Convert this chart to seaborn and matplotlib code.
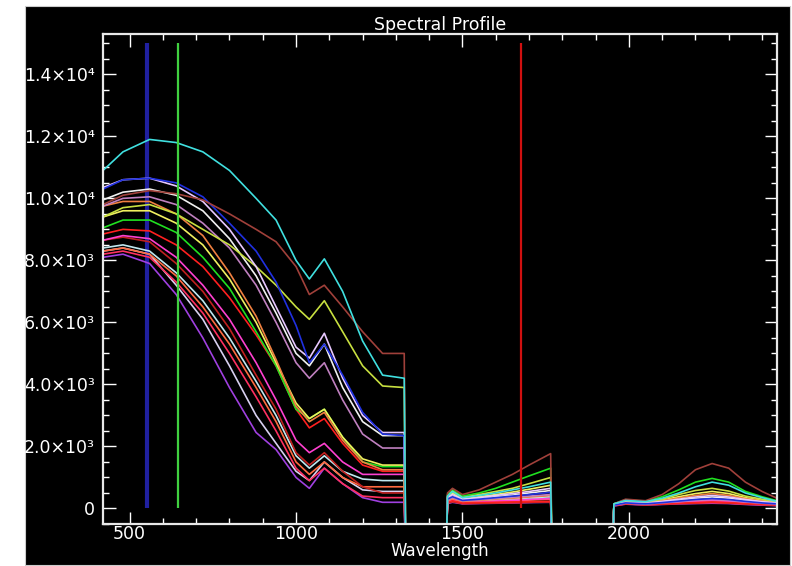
import numpy as np
import pandas as pd
import matplotlib
matplotlib.use('Agg')
import matplotlib.pyplot as plt
from matplotlib.patches import Rectangle
from matplotlib.ticker import MultipleLocator, FixedLocator
import seaborn as sns

# wavelength grids for the three good-band segments
wl_seg1 = [420, 480, 560, 640, 720, 800, 880, 940, 1000, 1040, 1085, 1140, 1200, 1260, 1325]
wl_seg2 = [1455, 1470, 1500, 1550, 1600, 1650, 1700, 1765]
wl_seg3 = [1955, 1990, 2050, 2100, 2150, 2200, 2250, 2300, 2350, 2400, 2445]
# bad bands (water absorption) are filled with a value below the plot
wl_gap1 = [1330, 1450]
wl_gap2 = [1770, 1950]
bad_value = -2000

# spectra values per segment
cyan_s1 = [10900, 11500, 11900, 11800, 11500, 10900, 10000, 9300, 8000, 7400, 8050, 7000, 5400, 4300, 4200]
cyan_s2 = [400, 550, 350, 420, 500, 600, 700, 850]
cyan_s3 = [150, 260, 220, 330, 500, 700, 850, 750, 500, 350, 230]

brown_s1 = [9800, 10100, 10250, 10150, 9950, 9500, 9000, 8600, 7800, 6900, 7200, 6500, 5700, 5000, 5000]
brown_s2 = [500, 650, 450, 600, 850, 1100, 1400, 1770]
brown_s3 = [150, 300, 250, 450, 800, 1250, 1450, 1300, 850, 550, 330]

blue_s1 = [10300, 10600, 10650, 10500, 10050, 9200, 8300, 7300, 5900, 4700, 5300, 4300, 3100, 2400, 2350]
blue_s2 = [300, 380, 260, 300, 350, 400, 450, 520]
blue_s3 = [110, 180, 150, 190, 240, 290, 320, 290, 230, 180, 150]

lavender_s1 = [10350, 10600, 10650, 10400, 9900, 9000, 7800, 6500, 5200, 4850, 5650, 4200, 3000, 2450, 2450]
lavender_s2 = [350, 450, 300, 350, 420, 480, 550, 650]
lavender_s3 = [120, 200, 170, 230, 300, 370, 420, 370, 290, 220, 180]

ygreen_s1 = [9400, 9700, 9800, 9500, 9000, 8500, 7800, 7200, 6500, 6100, 6700, 5700, 4600, 3950, 3900]
ygreen_s2 = [400, 550, 350, 450, 550, 650, 800, 1000]
ygreen_s3 = [150, 250, 200, 300, 450, 580, 650, 560, 400, 300, 220]

white_s1 = [9950, 10200, 10300, 10100, 9600, 8700, 7500, 6300, 5000, 4600, 5300, 3900, 2800, 2350, 2350]
white_s2 = [300, 400, 280, 320, 380, 430, 500, 580]
white_s3 = [120, 200, 160, 210, 270, 330, 370, 330, 260, 200, 170]

mauve_s1 = [9750, 10000, 10050, 9800, 9200, 8400, 7200, 6000, 4700, 4200, 4700, 3500, 2400, 1950, 1950]
mauve_s2 = [280, 350, 250, 280, 320, 360, 400, 450]
mauve_s3 = [110, 170, 140, 180, 220, 260, 290, 260, 210, 170, 140]

orange_s1 = [9750, 9900, 9900, 9500, 8800, 7600, 6200, 4800, 3300, 2800, 3100, 2200, 1500, 1250, 1250]
orange_s2 = [250, 320, 230, 260, 300, 330, 370, 420]
orange_s3 = [130, 220, 180, 250, 340, 420, 480, 420, 320, 240, 190]

yellow_s1 = [9400, 9600, 9600, 9200, 8500, 7400, 6000, 4700, 3400, 2900, 3200, 2300, 1600, 1400, 1400]
yellow_s2 = [350, 500, 300, 380, 450, 530, 620, 750]
yellow_s3 = [130, 230, 190, 270, 380, 480, 550, 480, 350, 260, 200]

green_s1 = [9050, 9300, 9300, 8900, 8100, 7100, 5700, 4600, 3200, 2900, 3200, 2300, 1500, 1350, 1350]
green_s2 = [450, 600, 400, 500, 650, 850, 1050, 1300]
green_s3 = [150, 280, 230, 380, 600, 850, 970, 850, 550, 380, 250]

red_s1 = [8850, 9000, 8950, 8500, 7800, 6800, 5600, 4600, 3200, 2600, 2900, 2100, 1400, 1200, 1200]
red_s2 = [200, 250, 180, 190, 200, 210, 220, 230]
red_s3 = [100, 160, 130, 150, 170, 190, 210, 190, 160, 140, 120]

pink_s1 = [8650, 8800, 8700, 8100, 7200, 6100, 4700, 3500, 2200, 1800, 2100, 1500, 1100, 1100, 1100]
pink_s2 = [220, 280, 200, 220, 240, 260, 290, 320]
pink_s3 = [110, 170, 140, 170, 200, 230, 260, 230, 190, 150, 130]

darkred_s1 = [8650, 8750, 8600, 7900, 7000, 5800, 4300, 3200, 1800, 1400, 1800, 1200, 700, 500, 500]
darkred_s2 = [180, 220, 160, 170, 180, 190, 200, 210]
darkred_s3 = [100, 150, 120, 140, 160, 180, 200, 180, 150, 130, 110]

ltcyan_s1 = [8400, 8500, 8300, 7600, 6700, 5500, 4100, 3000, 1700, 1300, 1700, 1200, 950, 900, 900]
ltcyan_s2 = [240, 300, 220, 250, 280, 310, 340, 380]
ltcyan_s3 = [120, 180, 150, 180, 220, 260, 300, 260, 210, 170, 140]

orred_s1 = [8300, 8400, 8200, 7500, 6500, 5300, 3900, 2800, 1500, 1100, 1500, 1000, 700, 700, 700]
orred_s2 = [200, 260, 190, 210, 230, 250, 270, 300]
orred_s3 = [100, 160, 130, 160, 190, 220, 250, 220, 180, 150, 120]

pinkred_s1 = [8200, 8300, 8100, 7300, 6300, 5000, 3600, 2500, 1300, 900, 1300, 800, 400, 350, 350]
pinkred_s2 = [170, 220, 160, 170, 180, 190, 200, 220]
pinkred_s3 = [90, 150, 120, 140, 160, 170, 190, 170, 140, 120, 100]

paleviolet_s1 = [8300, 8400, 8200, 7200, 6100, 4600, 3000, 2100, 1200, 900, 1500, 1000, 600, 550, 550]
paleviolet_s2 = [210, 270, 200, 220, 250, 270, 300, 330]
paleviolet_s3 = [100, 170, 140, 170, 200, 230, 260, 230, 190, 150, 130]

purple_s1 = [8100, 8200, 7900, 6900, 5500, 3900, 2450, 1900, 1000, 650, 1300, 800, 350, 200, 200]
purple_s2 = [160, 200, 150, 160, 170, 180, 190, 200]
purple_s3 = [80, 140, 110, 130, 150, 160, 170, 160, 130, 110, 90]

spectra = [
    ('purple', '#a040e0', purple_s1, purple_s2, purple_s3),
    ('paleviolet', '#d8d0f0', paleviolet_s1, paleviolet_s2, paleviolet_s3),
    ('pinkred', '#ff3060', pinkred_s1, pinkred_s2, pinkred_s3),
    ('orred', '#ff6a40', orred_s1, orred_s2, orred_s3),
    ('ltcyan', '#c0e8f0', ltcyan_s1, ltcyan_s2, ltcyan_s3),
    ('darkred', '#c02020', darkred_s1, darkred_s2, darkred_s3),
    ('pink', '#ff40d0', pink_s1, pink_s2, pink_s3),
    ('red', '#ff2020', red_s1, red_s2, red_s3),
    ('green', '#20e020', green_s1, green_s2, green_s3),
    ('yellow', '#f0f060', yellow_s1, yellow_s2, yellow_s3),
    ('orange', '#f08040', orange_s1, orange_s2, orange_s3),
    ('mauve', '#c080c0', mauve_s1, mauve_s2, mauve_s3),
    ('white', '#f0f0f0', white_s1, white_s2, white_s3),
    ('ygreen', '#c8e040', ygreen_s1, ygreen_s2, ygreen_s3),
    ('lavender', '#e8c8ff', lavender_s1, lavender_s2, lavender_s3),
    ('blue', '#2030e0', blue_s1, blue_s2, blue_s3),
    ('brown', '#a0403a', brown_s1, brown_s2, brown_s3),
    ('cyan', '#40e0e0', cyan_s1, cyan_s2, cyan_s3),
]

# vertical band markers (B, G, R display bands)
marker_wl = [551, 645, 1675]
marker_colors = ['#2020a0', '#40d040', '#d01010']
marker_top = 15000

y_ticks = [0, 2000, 4000, 6000, 8000, 10000, 12000, 14000]
y_labels = ['0', '2.0×10³', '4.0×10³', '6.0×10³', '8.0×10³', '1.0×10⁴', '1.2×10⁴', '1.4×10⁴']

# build long-form table
wl_all = wl_seg1 + wl_gap1 + wl_seg2 + wl_gap2 + wl_seg3
rows = []
for name, col, s1, s2, s3 in spectra:
    vals = s1 + [bad_value] * 2 + s2 + [bad_value] * 2 + s3
    for w, v in zip(wl_all, vals):
        rows.append((name, w, v))
df = pd.DataFrame(rows, columns=['spectrum', 'wavelength', 'value'])
palette = {name: col for name, col, *_ in spectra}
order = [s[0] for s in spectra]

sns.set_theme(style='ticks', rc={'axes.facecolor': 'black', 'axes.edgecolor': 'white',
                                 'xtick.color': 'white', 'ytick.color': 'white',
                                 'text.color': 'white', 'axes.labelcolor': 'white'})
plt.rcParams['font.family'] = ['DejaVu Sans']

fig = plt.figure(figsize=(7.92, 5.66), dpi=100)
fig.patch.set_facecolor('white')
fig.patches.append(Rectangle((25 / 792, 1 / 566), 765 / 792, 559 / 566,
                             transform=fig.transFigure, facecolor='black',
                             edgecolor='#cccccc', lw=0.8, zorder=-10))
ax = fig.add_axes([103 / 792, 1 - 524 / 566, 674 / 792, 490 / 566])

# blue marker sits behind the spectra
ax.vlines(marker_wl[0], 0, marker_top, colors=marker_colors[0], lw=3, zorder=1)

sns.lineplot(data=df, x='wavelength', y='value', hue='spectrum', hue_order=order,
             palette=palette, estimator=None, sort=False, legend=False,
             linewidth=1.2, ax=ax, zorder=2)

ax.vlines(marker_wl[1:], 0, marker_top, colors=marker_colors[1:], lw=1.6, zorder=3)

ax.set_xlim(420, 2445)
ax.set_ylim(-500, 15300)
ax.xaxis.set_major_locator(MultipleLocator(500))
ax.xaxis.set_minor_locator(MultipleLocator(100))
ax.yaxis.set_major_locator(FixedLocator(y_ticks))
ax.yaxis.set_minor_locator(MultipleLocator(500))
ax.set_yticklabels(y_labels)
ax.tick_params(which='both', direction='in', top=True, right=True, colors='white',
               labelsize=12.5, width=1)
ax.tick_params(which='major', length=9)
ax.tick_params(axis='y', which='major', pad=6)
ax.tick_params(axis='x', which='major', pad=1)
ax.tick_params(which='minor', length=4.5)
for sp in ax.spines.values():
    sp.set_color('#e8e8e8')
    sp.set_linewidth(1.6)

ax.set_title('Spectral Profile', color='white', fontsize=12.5, pad=2)
ax.set_xlabel('Wavelength', color='white', fontsize=12, labelpad=-1)
ax.set_ylabel('')

plt.savefig('out.png', dpi=100, facecolor=fig.get_facecolor())
